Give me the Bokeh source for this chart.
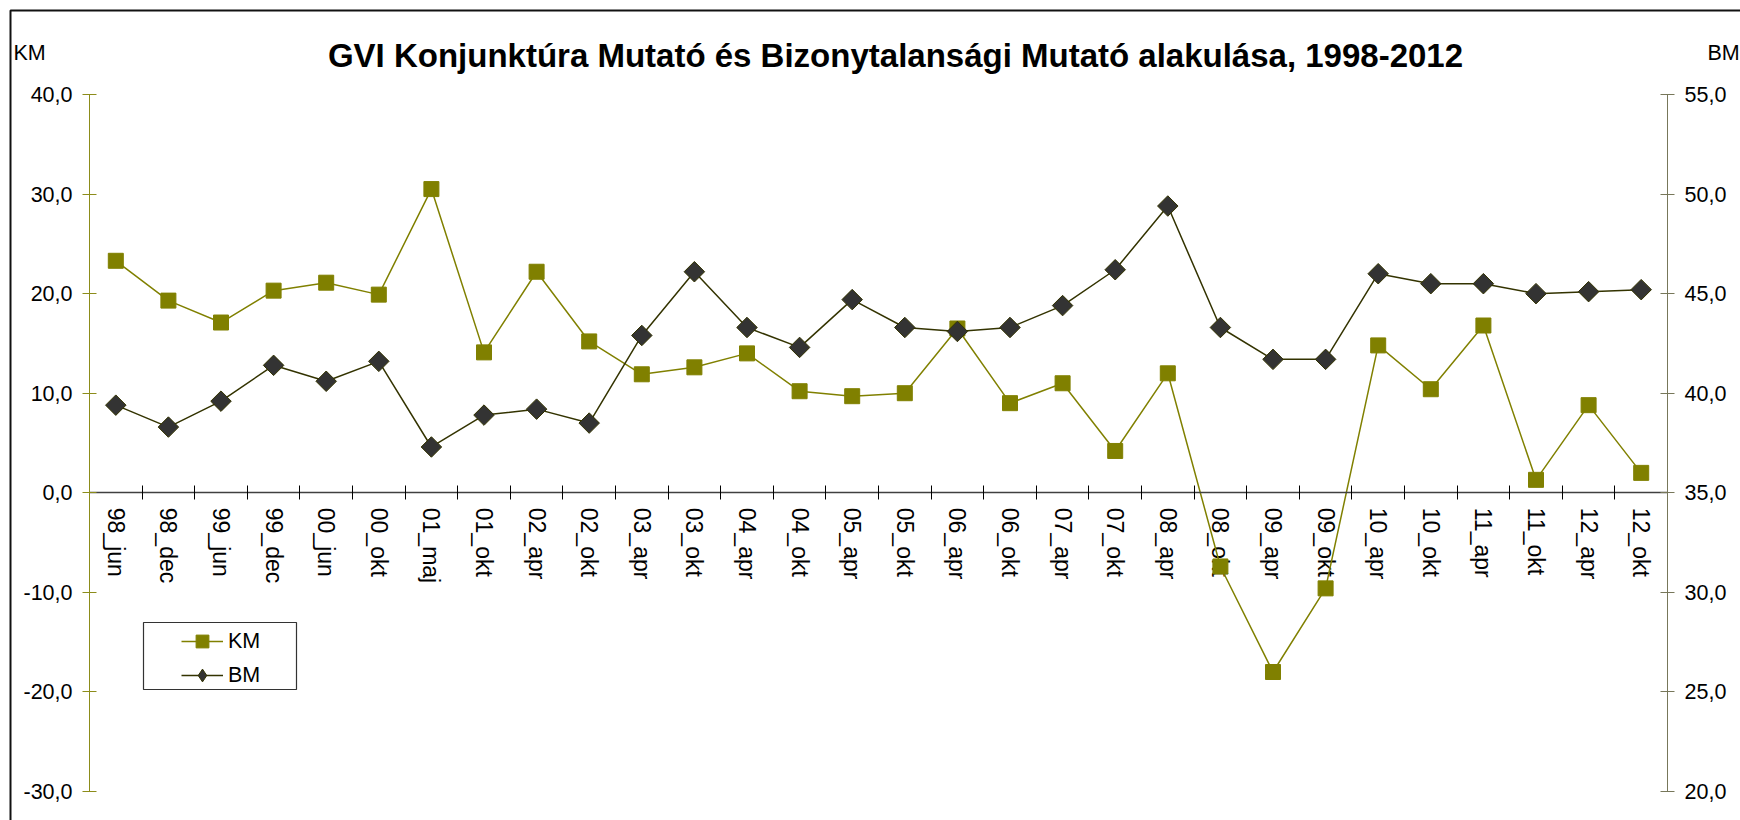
import numpy as np
from bokeh.plotting import figure
from bokeh.models import (Range1d, LinearAxis, FixedTicker, SingleIntervalTicker,
                          CustomJSTickFormatter, Legend, LegendItem, Label, BoxAnnotation)
from bokeh.embed import file_html
from bokeh.resources import INLINE

categories = ["98_jun", "98_dec", "99_jun", "99_dec", "00_jun", "00_okt", "01_maj", "01_okt",
              "02_apr", "02_okt", "03_apr", "03_okt", "04_apr", "04_okt", "05_apr", "05_okt",
              "06_apr", "06_okt", "07_apr", "07_okt", "08_apr", "08_okt", "09_apr", "09_okt",
              "10_apr", "10_okt", "11_apr", "11_okt", "12_apr", "12_okt"]
km_values = [23.3, 19.3, 17.1, 20.3, 21.1, 19.9, 30.5, 14.1, 22.2, 15.2,
             11.9, 12.6, 14.0, 10.2, 9.7, 10.0, 16.5, 9.0, 11.0, 4.2,
             12.0, -7.4, -18.0, -9.6, 14.8, 10.4, 16.8, 1.3, 8.8, 2.0]
bm_values = [39.4, 38.3, 39.6, 41.4, 40.6, 41.6, 37.3, 38.9, 39.2, 38.5,
             42.9, 46.1, 43.3, 42.3, 44.7, 43.3, 43.1, 43.3, 44.4, 46.2,
             49.4, 43.3, 41.7, 41.7, 46.0, 45.5, 45.5, 45.0, 45.1, 45.2]
km_axis = (-30, 40)
bm_axis = (20, 55)
title_text = "GVI Konjunktúra Mutató és Bizonytalansági Mutató alakulása, 1998-2012"

FONT = "Liberation Sans"
TICK_SIZE = "21.5px"
CAT_SIZE = "23px"
KM_COLOR = "#808000"
BM_LINE = "#333300"
BM_FILL = "#333333"

# page layout (pixels): canvas size and plot-area edges
W, H = 1740, 820
FL, FR, FT, FB = 89, 1667, 94, 791

n = len(categories)
xs = np.arange(n) + 0.5

# ranges chosen so the whole canvas is the frame and the plot area sits at FL..FR / FT..FB
ppx = (FR - FL) / n
x_start, x_end = -FL / ppx, n + (W - FR) / ppx
ppy = (FB - FT) / (km_axis[1] - km_axis[0])
y_start, y_end = km_axis[0] - (H - FB) / ppy, km_axis[1] + FT / ppy
k = (bm_axis[1] - bm_axis[0]) / (km_axis[1] - km_axis[0])
bm_start = bm_axis[0] + (y_start - km_axis[0]) * k
bm_end = bm_axis[0] + (y_end - km_axis[0]) * k

p = figure(width=W, height=H, output_backend="svg", toolbar_location=None,
           x_range=Range1d(x_start, x_end), y_range=Range1d(y_start, y_end),
           x_axis_location=None, y_axis_location=None,
           min_border_left=0, min_border_right=0, min_border_top=0, min_border_bottom=0)
p.extra_y_ranges = {"bm": Range1d(bm_start, bm_end)}
p.outline_line_color = None
p.grid.visible = False
p.background_fill_color = "white"
p.border_fill_color = "white"

fmt = CustomJSTickFormatter(code="return tick.toFixed(1).replace('.', ',');")

# left axis (KM)
la = LinearAxis(ticker=SingleIntervalTicker(interval=10), formatter=fmt,
                fixed_location=0, bounds=km_axis,
                axis_line_color="#8c8c1a", major_tick_line_color="#8c8c1a",
                major_tick_in=7, major_tick_out=7, minor_tick_line_color=None,
                major_label_standoff=10, major_label_text_font=FONT,
                major_label_text_font_size=TICK_SIZE, major_label_text_color="black")
p.add_layout(la, "left")

# right axis (BM)
ra = LinearAxis(y_range_name="bm", ticker=SingleIntervalTicker(interval=5), formatter=fmt,
                fixed_location=n, bounds=bm_axis,
                axis_line_color="#77775a", major_tick_line_color="#77775a",
                major_tick_in=7, major_tick_out=7, minor_tick_line_color=None,
                major_label_standoff=10, major_label_text_font=FONT,
                major_label_text_font_size=TICK_SIZE, major_label_text_color="black")
p.add_layout(ra, "right")

# category axis: boundary ticks
xt = LinearAxis(ticker=FixedTicker(ticks=list(range(n + 1))), fixed_location=0, bounds=(0, n),
                axis_line_color="#404040", axis_line_width=1.5,
                major_tick_line_color="black", major_tick_in=7, major_tick_out=7,
                minor_tick_line_color=None, major_label_text_color=None)
p.add_layout(xt, "below")
# category axis: labels
xl = LinearAxis(ticker=FixedTicker(ticks=list(xs)), fixed_location=0, bounds=(0, n),
                formatter=CustomJSTickFormatter(args=dict(cats=categories),
                                                code="return cats[Math.floor(tick)];"),
                axis_line_color=None, major_tick_line_color=None, minor_tick_line_color=None,
                major_tick_out=7, major_label_standoff=8, major_label_orientation="vertical",
                major_label_text_font=FONT, major_label_text_font_size=CAT_SIZE,
                major_label_text_color="black")
xl.level = "underlay"
p.add_layout(xl, "below")

# series
km_line = p.line(xs, km_values, line_color=KM_COLOR, line_width=1.5)
km_pts = p.scatter(xs, km_values, marker="square", size=15, fill_color=KM_COLOR,
                   line_color=KM_COLOR, line_width=1)
bm_line = p.line(xs, bm_values, line_color=BM_LINE, line_width=1.5, y_range_name="bm")
bm_pts = p.scatter(xs, bm_values, marker="square", angle=np.pi / 4, size=14.5,
                   fill_color=BM_FILL, line_color=BM_LINE, line_width=1, y_range_name="bm")
# legend-only diamond glyph (single undefined point, never drawn in the plot)
bm_leg = p.scatter(x=[np.nan], y=[np.nan], marker="diamond", size=16, fill_color=BM_FILL,
                   line_color=BM_LINE, line_width=1)

# legend
legend = Legend(items=[LegendItem(label="KM", renderers=[km_line, km_pts]),
                       LegendItem(label="BM", renderers=[bm_line, bm_leg])],
                location=(181, H - 691), orientation="vertical",
                padding=0, margin=0, spacing=2, glyph_width=42, glyph_height=32,
                label_height=32, label_standoff=5, label_text_font=FONT,
                label_text_font_size=TICK_SIZE, label_text_color="black",
                border_line_color=None, background_fill_alpha=0)
p.add_layout(legend, "center")

legend_box = BoxAnnotation(left=143, right=296, top=622, bottom=689,
                           left_units="canvas", right_units="canvas",
                           top_units="canvas", bottom_units="canvas",
                           fill_alpha=0, line_color="#333333", line_alpha=1, line_width=1.2)
p.add_layout(legend_box)

outer_box = BoxAnnotation(left=10, right=W + 50, top=10, bottom=H + 50,
                          left_units="canvas", right_units="canvas",
                          top_units="canvas", bottom_units="canvas",
                          fill_alpha=0, line_color="#111111", line_alpha=1, line_width=2)
p.add_layout(outer_box)

# title and axis captions (screen units: from frame bottom-left = canvas bottom-left)
p.add_layout(Label(x=895, y=H - 55, x_units="screen", y_units="screen", text=title_text,
                   text_font=FONT, text_font_style="bold", text_font_size="33px",
                   text_align="center", text_baseline="middle", text_color="black"))
p.add_layout(Label(x=13, y=H - 52, x_units="screen", y_units="screen", text="KM",
                   text_font=FONT, text_font_size=TICK_SIZE, text_align="left",
                   text_baseline="middle", text_color="black"))
p.add_layout(Label(x=1707, y=H - 52, x_units="screen", y_units="screen", text="BM",
                   text_font=FONT, text_font_size=TICK_SIZE, text_align="left",
                   text_baseline="middle", text_color="black"))

open("out.html", "w").write(file_html(p, INLINE))
